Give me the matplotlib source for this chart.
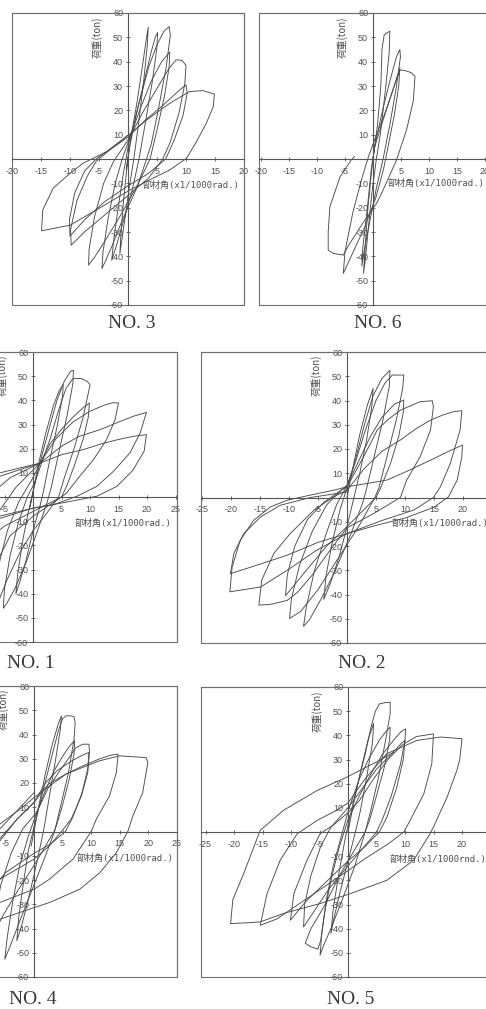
import matplotlib
matplotlib.use("Agg")
import matplotlib.pyplot as plt
from matplotlib.patches import Rectangle
from matplotlib.ticker import FuncFormatter

plt.rcParams['axes.unicode_minus'] = False
plt.rcParams['font.family'] = ['Liberation Sans', 'DejaVu Sans']

# ---------------- data (drift x1/1000 rad, load ton) ----------------
NO3_C1 = [(-0.3,-4),(0.6,10),(1.6,24),(2.6,40),(3.2,50),(3.5,54.2),(3.3,46),(2.7,32),(1.9,16),(1.0,0),(0.2,-12),(-0.5,-24),(-1.1,-34),(-1.4,-38.8),(-1.2,-30),(-0.8,-18),(-0.3,-6),(0.2,4)]
NO3_C2 = [(0.2,4),(1.4,18),(2.8,32),(4.0,44),(4.7,50),(5.1,52),(5.0,46),(4.2,32),(3.0,15),(1.9,0),(0.8,-12),(-0.6,-24),(-1.8,-34),(-2.5,-39.5),(-2.8,-41.6),(-2.5,-34),(-1.7,-20),(-0.8,-6),(0.1,6)]
NO3_C3 = [(0.1,6),(1.8,22),(3.6,38),(5.0,47),(6.2,52.5),(7.1,54.4),(7.3,51),(6.6,38),(5.2,20),(4.0,6),(3.2,0),(1.5,-12),(-0.8,-24),(-2.8,-36),(-4.0,-42.5),(-4.5,-45),(-4.3,-38),(-3.4,-24),(-2.2,-10),(-1.0,0),(0.2,8)]
NO3_C4 = [(0.2,8),(2.0,20),(4.0,32),(5.8,40),(7.2,44),(7.1,38),(6.3,26),(5.0,12),(3.8,0),(1.8,-10),(-1.0,-22),(-3.8,-33),(-5.8,-40.5),(-6.8,-43.6),(-6.7,-37),(-5.8,-24),(-4.2,-10),(-2.5,-1),(-0.5,6),(0.3,9)]
NO3_C5 = [(0.3,9),(2.5,19),(5.0,29),(7.0,37),(8.3,40.8),(9.3,40.5),(10.0,38.5),(9.8,31),(8.8,19),(7.3,7),(6.0,0),(3.5,-8),(0.0,-15),(-4.0,-23),(-7.5,-30),(-9.8,-35.4),(-9.9,-29),(-8.8,-17),(-7.0,-7),(-5.5,-1),(-3.0,4),(0.0,9)]
NO3_C6 = [(0.0,9),(3.0,16),(6.0,22),(8.5,27.5),(10.0,30.5),(10.2,27),(9.5,18),(8.0,8),(6.5,0),(3.5,-6),(0.0,-11),(-4.0,-17.5),(-7.5,-25),(-10.0,-31.7),(-10.1,-25),(-9.2,-14),(-7.5,-5),(-5.5,0),(-2.5,5),(-0.3,9.2)]
NO3_C7 = [(-0.3,9.2),(3.2,16),(7.2,22.9),(10.6,27.7),(12.9,28.1),(14.9,26.7),(14.7,21.5),(13.5,14.7),(11.8,7.1),(10.1,0.3),(7.2,-4.5),(3.7,-8.6),(0.3,-12.8),(-5.5,-21),(-10.0,-27.2),(-14.9,-29.5),(-14.7,-21),(-12.9,-12),(-10.0,-5.9),(-7.8,-1.8),(-3.7,3),(-0.3,9.2)]
NO3 = [NO3_C1, NO3_C2, NO3_C3, NO3_C4, NO3_C5, NO3_C6, NO3_C7]

NO6_C1 = [(0,0),(0.8,14),(1.4,30),(1.6,45),(2.0,51),(2.6,52),(3.0,52.5),(2.9,44),(2.2,28),(1.3,10),(0.6,0),(-0.2,-14),(-0.9,-30),(-1.4,-42),(-1.7,-47),(-1.4,-36),(-0.9,-20),(-0.3,-6),(0.2,4)]
NO6_C2 = [(0.2,4),(1.5,18),(3.0,32),(4.2,42),(4.8,45),(4.9,42),(4.2,30),(3.0,14),(1.8,0),(0.6,-12),(-0.6,-26),(-1.6,-38),(-2.0,-44),(-1.8,-36),(-1.0,-20),(-0.3,-4),(0.3,5)]
NO6_C3 = [(0.3,5),(1.8,16),(3.5,28),(4.8,37.5),(4.6,30),(3.8,18),(2.6,4),(1.9,-4),(0.5,-16),(-1.5,-28),(-3.5,-38),(-5.3,-47),(-5.0,-38),(-3.6,-22),(-2.0,-8),(-0.8,1),(0.3,8)]
NO6_C4 = [(0.3,8),(2.0,18),(3.5,28),(4.8,36.6),(5.8,36.3),(6.8,35.5),(7.5,34),(7.2,24),(6.0,12),(4.2,-0.4),(1.8,-12.8),(0.7,-18),(-2.0,-27),(-4.5,-36),(-5.3,-39.5),(-7.1,-38.8),(-8.0,-37.4),(-8.0,-30),(-7.7,-19.6),(-5.9,-7.4),(-3.9,-0.4),(-3.3,1)]
NO6 = [NO6_C1, NO6_C2, NO6_C3, NO6_C4]

NO1_C1 = [(-0.5,-4),(0.8,12),(2.2,26),(3.6,38),(4.6,44),(5.3,46.5),(5.2,42),(4.3,30),(3.0,16),(1.8,2),(1.2,-4),(0,-14),(-1.2,-26),(-2.3,-35),(-3.0,-40),(-2.7,-32),(-1.8,-18),(-0.8,-6),(0,2)]
NO1_C2 = [(0,2),(1.2,14),(2.8,28),(4.2,40),(5.5,48),(6.6,52),(7.1,52.4),(7.0,47),(6.0,34),(4.5,18),(3.2,4),(2.5,-2),(0.8,-14),(-1.2,-27),(-3.2,-38),(-4.6,-44),(-5.2,-46),(-5.0,-38),(-4.0,-24),(-2.5,-10),(-1.0,0),(0.3,6)]
NO1_C3 = [(0.3,6),(1.5,14),(3.0,24),(4.5,36),(5.8,45),(7.0,49),(8.5,49),(9.5,47.9),(10.0,46.5),(9.7,43),(8.8,33),(7.2,20),(5.5,8),(4.5,0),(2.0,-8),(0,-14),(-2.3,-23),(-4.5,-34),(-6.2,-44),(-7.0,-48),(-6.8,-40),(-6.0,-28),(-4.5,-14),(-2.5,-2),(0,8)]
NO1_C4 = [(0,8),(1.2,14),(3.0,22),(5.0,28),(7.0,33),(8.8,37),(9.9,38.9),(9.7,33),(8.8,24),(7.4,14),(6.0,5),(5.0,0),(2.5,-4),(0,-8),(-4,-16),(-7,-30),(-9,-38),(-10,-42),(-9.8,-32),(-8.5,-18),(-6,-6),(-3,4),(1.2,14)]
NO1_C5 = [(1.2,14),(4,24),(7,31),(10,35.5),(12.5,38),(14,39),(15,38.9),(14.4,32),(12.9,23.7),(10.6,15.4),(8.2,8.6),(5.9,1.7),(5,0),(2.5,-3),(0,-6),(-5,-12),(-10,-22),(-13,-32),(-15,-40),(-15,-30),(-13.5,-18),(-11,-8),(-8,0),(-4,8),(1.2,14)]
NO1_C6 = [(1.2,14),(5,21),(8,25),(11.8,27.9),(15,31),(17.6,33.4),(19.9,35),(18.8,26.5),(17,18.2),(14.1,10.6),(11.2,4.4),(7.7,0.3),(3.6,-3.2),(0,-4.6),(-6,-9),(-12,-18),(-17,-28),(-20,-35),(-20,-26),(-18,-14),(-15,-5),(-10,4),(-5.8,10),(1.2,14)]
NO1_C7 = [(1.2,14),(5,17.5),(8.8,19.6),(12,22),(15,23.8),(17.6,25.1),(19.9,25.8),(19.5,19),(17.5,11),(14.7,4.4),(11.2,0.3),(5,-2.5),(0,-4.6),(-6,-8),(-12,-14),(-18,-22),(-24,-30),(-24,-22),(-22,-12),(-18,-3),(-12,4),(-5.8,8.6),(1.2,14)]
NO1 = [NO1_C1, NO1_C2, NO1_C3, NO1_C4, NO1_C5, NO1_C6, NO1_C7]

NO2_C1 = [(0,0),(1,12),(2.2,26),(3.5,38),(4.5,45),(4.3,38),(3.4,24),(2.2,10),(1.2,0),(0,-12),(-1.3,-24),(-2.8,-35),(-4,-42),(-3.6,-32),(-2.5,-18),(-1.2,-5),(0,4)]
NO2_C2 = [(0,4),(1.5,16),(3,30),(4.5,42),(6,49),(7.4,52.5),(7.3,46),(6.2,32),(4.6,16),(3.2,2),(2.6,-3),(0.5,-16),(-2,-30),(-4.5,-42),(-6.5,-50.5),(-7.5,-53.1),(-7,-45),(-5.6,-30),(-3.6,-15),(-1.8,-3),(0,5)]
NO2_C3 = [(0,5),(1.5,15),(3.2,28),(5,40),(6.5,47),(7.8,50.5),(9.0,50.5),(9.8,50.5),(9.6,45),(8.5,32),(6.8,16),(5.5,4),(4.8,0),(2,-12),(-1.5,-25),(-5,-38),(-8,-47),(-9.9,-49.9),(-9.6,-42),(-8.2,-28),(-6,-14),(-3.5,-3),(-1,3),(0,5)]
NO2_C4 = [(0,5),(2,15),(4,25),(6,33),(8.2,38.5),(9.8,40.2),(9.7,35),(8.9,25),(7.5,14),(5.8,4),(5,0),(2.5,-6),(0,-12),(-3.5,-20),(-7,-30),(-10.6,-40.5),(-10.3,-32),(-9,-20),(-6.8,-9),(-4,-2),(-1,3),(0,4.4)]
NO2_C5 = [(0,4.4),(2,13),(4,22),(5.2,27.8),(7,32),(9.2,36),(12.6,39.5),(14.7,39.9),(14.9,37.4),(14.4,27.8),(12.6,16.8),(10.3,7.2),(9.2,0),(4.6,-6.6),(0,-12.5),(-3,-22),(-6,-32),(-8.5,-39),(-10.3,-42.4),(-13,-44),(-15.2,-44.4),(-14.7,-34),(-12.6,-23),(-9.8,-14.9),(-5.7,-5.2),(-2.3,0.3),(0,3)]
NO2_C6 = [(0,3),(3,12),(6,19),(9.2,23.7),(12,28.5),(14.4,31.9),(16.5,34),(18.4,35.4),(19.8,35.8),(19.5,27.8),(17.8,14),(16.1,4.4),(14.9,0),(11.5,-5.2),(6,-9.5),(0,-14.9),(-5.2,-21.7),(-10.3,-30),(-14.9,-36.9),(-20.2,-38.9),(-19.8,-28.6),(-18.4,-17.6),(-16.1,-9.4),(-13.2,-3.9),(-10.3,-1.1),(-6.3,1),(-2.3,3),(0,4.4)]
NO2_C7 = [(0,4.4),(3.5,5.8),(6.9,7.2),(10.5,11),(14.4,15.4),(17.5,19),(19.9,21.6),(19.8,16.8),(19,7.2),(17.5,0.3),(15,-4),(10,-8.5),(5,-11.5),(0,-14.9),(-5,-18.5),(-10.3,-23.8),(-15,-27.5),(-20.1,-31.4),(-19.5,-23),(-17.8,-14.9),(-14.9,-8),(-11.5,-3.2),(-6.3,0),(0,2.3)]
NO2 = [NO2_C1, NO2_C2, NO2_C3, NO2_C4, NO2_C5, NO2_C6, NO2_C7]

NO4_C1 = [(-0.5,-6),(0.8,10),(2,24),(3.2,36),(4.2,44),(4.8,47.7),(4.6,42),(3.8,30),(2.8,16),(1.8,2),(1.2,-5),(0,-18),(-1.2,-30),(-2.3,-40),(-3,-45),(-2.7,-36),(-1.9,-22),(-1,-8),(0,2)]
NO4_C2 = [(0,2),(1.5,16),(3,30),(4.2,41),(5,46.5),(5.6,47.7),(6.5,47.7),(7.0,47.2),(7.2,45),(7.0,38),(6.0,24),(4.6,10),(3.6,0),(2,-10),(0,-22),(-2,-34),(-3.8,-45),(-5.1,-52.7),(-4.7,-44),(-3.8,-30),(-2.5,-14),(-1,-2),(0.5,8)]
NO4_C3 = [(0.5,8),(2,17),(3.5,25),(5,31),(6.3,35.5),(7.1,37.4),(7.0,32),(6.2,22),(5,11),(4,3),(3.5,0),(1.5,-8),(0,-14),(-3,-25),(-5.5,-35),(-7,-42),(-6.8,-34),(-5.8,-22),(-4,-9),(-2,1),(0.5,8)]
NO4_C4 = [(0.5,8),(2.5,18),(4.5,25),(6,30),(7.3,34.5),(8.5,36),(9.6,36),(9.7,33),(9.4,24.3),(8.3,14.7),(6.5,5.1),(4.8,0),(2.7,-5.9),(0,-11.4),(-6,-19.7),(-8.5,-30),(-10,-40),(-9.7,-30),(-8.5,-17),(-6,-4),(-3,5),(0,12)]
NO4_C5 = [(0,12),(2,20),(4,25),(6.5,29),(8.5,31.5),(9.6,32.6),(9.4,26),(8.4,16),(6.8,6),(5.5,0),(3,-5),(0,-9),(-5,-17),(-8.5,-27),(-10,-37),(-9.8,-27),(-8.5,-14),(-6,-3),(-3,5),(0,12)]
NO4_C6 = [(0,12),(2.5,19.5),(5.6,23.7),(8.5,27),(11.5,30),(13.5,31.5),(14.7,31.9),(14.4,24.3),(13.2,14.7),(10.9,5.1),(10,0),(6.8,-11.4),(2.7,-19.7),(0,-23.8),(-6,-29.3),(-11,-33),(-15,-40),(-14.8,-30),(-13,-18),(-10,-7),(-6,3),(-2,10),(0,14)]
NO4_C7 = [(0,14),(5.6,23.7),(11.5,29.2),(15,31.2),(17.5,30.8),(19.6,30.5),(19.9,28.5),(19,16),(17.3,6.5),(16.4,0),(14.4,-8.7),(11.5,-17),(8,-23.8),(2.7,-29.3),(0,-31.4),(-6,-36.2),(-12,-38),(-20,-38),(-19.5,-28),(-17,-16),(-12,-6),(-6,1),(0,16)]
NO4 = [NO4_C1, NO4_C2, NO4_C3, NO4_C4, NO4_C5, NO4_C6, NO4_C7]

NO5_C1 = [(0,0),(1,12),(2.2,25),(3.5,38),(4.5,45),(4.3,37),(3.3,23),(2.1,8),(1.3,0),(0,-12),(-1.4,-25),(-2.5,-36),(-3,-42),(-2.6,-32),(-1.6,-17),(-0.6,-4),(0.3,6)]
NO5_C2 = [(0.3,6),(1.5,18),(3,32),(4,43),(4.8,50),(5.5,53),(6.5,53.5),(7.4,53.7),(7.4,49),(6.6,38),(5.3,22),(3.9,8),(3,0),(1.2,-14),(-1,-28),(-3,-40),(-4.3,-47),(-4.9,-51),(-4.6,-42),(-3.8,-28),(-2.6,-14),(-1.2,-2),(0.2,10)]
NO5_C3 = [(0.2,10),(2,22),(3.8,31),(5.5,38),(6.8,42),(7.4,43.4),(7.3,38),(6.5,28),(5,15),(3.8,5),(3,0),(1,-8),(-1.5,-18),(-4,-30),(-6.5,-40),(-7.5,-46),(-6.5,-47.5),(-5.3,-48.5),(-4.8,-45),(-4,-32),(-2.8,-18),(-1.5,-6),(0,5)]
NO5_C4 = [(0,5),(2,15),(4,24),(6,32),(8,38),(9.3,41.5),(10.1,42.7),(10,38),(9.2,28),(7.6,15),(6,5),(5,0),(2.5,-7),(0,-14),(-3.5,-24),(-6,-33),(-7.8,-39.3),(-7.6,-30),(-6.5,-18),(-4.8,-6),(-3,2),(0,10)]
NO5_C5 = [(0,10),(2.5,18),(5,26),(7.5,32),(9.5,37),(10,38),(9.7,30),(8.5,18),(6.8,6),(5.5,0),(3,-6),(0,-12),(-4,-21),(-7.5,-29),(-10.1,-36.5),(-9.5,-25.5),(-7.2,-11.7),(-4.9,-0.7),(-2.5,3),(0,8)]
NO5_C6 = [(0,8),(2,13),(4.5,22),(7,30),(9.5,36),(12,39.5),(15,40.6),(14.7,28.2),(13.3,15.8),(10.9,4.8),(9.8,0),(7,-5),(3,-11),(0,-16),(-5,-24),(-10,-32),(-12.5,-36),(-15.4,-38.6),(-14.2,-25.5),(-11.9,-11.7),(-8.9,-0.7),(-5.4,4.8),(-2,9),(0,12)]
NO5_C7 = [(0,12),(3,22),(6.8,32.4),(12.1,37.9),(16.2,39.3),(20,38.6),(19.6,30),(19.1,25.5),(17.4,14.5),(15,2.1),(14.4,-0.7),(11.5,-11.7),(6.8,-20),(0.4,-25.5),(-4.9,-29.6),(-11.3,-33.7),(-15.4,-37.2),(-18,-37.6),(-20.6,-37.9),(-20.2,-28),(-18.3,-17.2),(-15.4,0.7),(-11.3,9),(-5.4,17.2),(-0.2,22.7),(5,29),(8,33)]
NO5 = [NO5_C1, NO5_C2, NO5_C3, NO5_C4, NO5_C5, NO5_C6, NO5_C7]

YTICKS = [-60, -50, -40, -30, -20, -10, 10, 20, 30, 40, 50, 60]
XTICKS_20 = [-20, -15, -10, -5, 5, 10, 15, 20]
XTICKS_25 = [-25, -20, -15, -10, -5, 5, 10, 15, 20, 25]
YLABEL = "荷重(ton)"
XLABEL = "部材角(x1/1000rad.)"
XLABEL5 = "部材角(x1/1000rnd.)"
TITLES = ["NO. 3", "NO. 6", "NO. 1", "NO. 2", "NO. 4", "NO. 5"]

# ---------------- layout (pixels) ----------------
W, H = 486, 1009
fig = plt.figure(figsize=(W / 100, H / 100), dpi=100)
fig.patch.set_facecolor('white')

# (title, cycles, x0 px, px/unit, xlim, top px, bottom px, xticks, xlabel, xlabel offset, title pos)
panels = [
    (TITLES[0], NO3, 128, 5.8, (-20, 20), 13, 305, XTICKS_20, XLABEL, (15, -26), (132, 323)),
    (TITLES[1], NO6, 373, 5.6, (-20.4, 21.2), 13, 305, XTICKS_20, XLABEL, (15, -24), (378, 323)),
    (TITLES[2], NO1, 33, 5.7, (-25, 25.2), 352, 642, XTICKS_25, XLABEL, (42, -26), (31, 663)),
    (TITLES[3], NO2, 347, 5.8, (-25.2, 25.5), 352, 643, XTICKS_25, XLABEL, (45, -26), (362, 663)),
    (TITLES[4], NO4, 34, 5.72, (-25, 25), 686, 977, XTICKS_25, XLABEL, (43, -27), (33, 999)),
    (TITLES[5], NO5, 348, 5.7, (-25.8, 25.5), 687, 977, XTICKS_25, XLABEL5, (42, -27), (351, 999)),
]

LINE = '#4a4a4a'
FRAME = '#6e6e6e'

fmt = FuncFormatter(lambda v, p: '' if v == 0 else '%g' % v)

for (title, cycles, x0, ppu, xlim, top, bot, xt, xlab, xoff, tpos) in panels:
    left = x0 + xlim[0] * ppu
    right = x0 + xlim[1] * ppu
    ax = fig.add_axes([left / W, 1 - bot / H, (right - left) / W, (bot - top) / H])
    ax.set_xlim(*xlim)
    ax.set_ylim(-60, 60)
    ax.set_facecolor('none')
    for cyc in cycles:
        xs = [p[0] for p in cyc]
        ys = [p[1] for p in cyc]
        ax.plot(xs, ys, color=LINE, lw=0.65, solid_joinstyle='round')
    # center axes
    ax.spines['left'].set_position(('data', 0))
    ax.spines['bottom'].set_position(('data', 0))
    for s in ['left', 'bottom']:
        ax.spines[s].set_color('#555555')
        ax.spines[s].set_linewidth(0.8)
    for s in ['top', 'right']:
        ax.spines[s].set_color(FRAME)
        ax.spines[s].set_linewidth(0.8)
    ax.add_patch(Rectangle((0, 0), 1, 1, transform=ax.transAxes, fill=False,
                           ec=FRAME, lw=0.8, clip_on=False))
    ax.xaxis.set_ticks_position('bottom')
    ax.yaxis.set_ticks_position('left')
    ax.set_xticks(xt)
    ax.set_yticks(YTICKS)
    ax.xaxis.set_major_formatter(fmt)
    ax.yaxis.set_major_formatter(fmt)
    ax.tick_params(axis='both', direction='inout', length=3, width=0.6,
                   colors='#555555', labelcolor='#505050', labelsize=6.5)
    ax.tick_params(axis='x', pad=4)
    ax.tick_params(axis='y', pad=2)
    ax.annotate(YLABEL, xy=(0, 60), xytext=(-31, -3), textcoords='offset pixels',
                rotation=90, ha='center', va='top', fontsize=7, color='#505050',
                family=['Noto Sans CJK JP', 'DejaVu Sans'], annotation_clip=False)
    ax.annotate(xlab, xy=(0, 0), xytext=xoff, textcoords='offset pixels',
                ha='left', va='center', fontsize=6.5, color='#505050',
                family=['DejaVu Sans Mono', 'Noto Sans CJK JP'], annotation_clip=False)
    fig.text(tpos[0] / W, 1 - tpos[1] / H, title, ha='center', va='center',
             fontsize=14, color='#3a3a3a', family=['Liberation Serif', 'DejaVu Serif'])

fig.savefig('out.png', dpi=100, facecolor='white')
